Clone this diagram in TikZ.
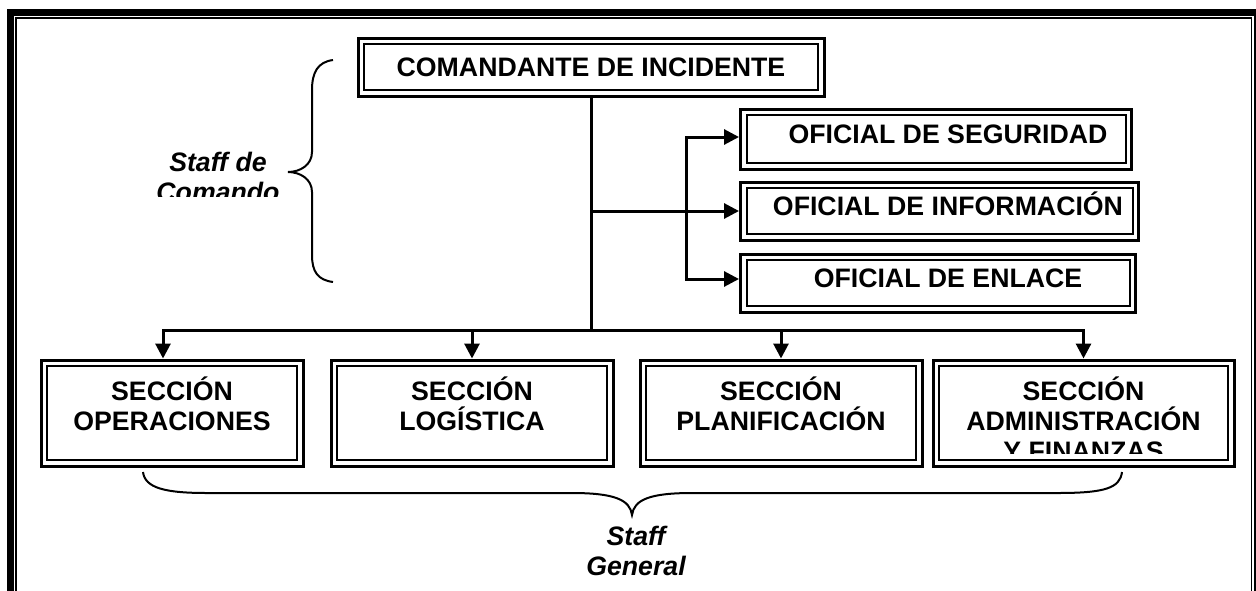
\documentclass[tikz,border=0pt]{standalone}
\usepackage{fontspec}
\setmainfont{Liberation Sans}
\usetikzlibrary{arrows.meta}

\begin{document}
\begin{tikzpicture}[x=1pt, y=-1pt, >={Triangle[length=15pt,width=15pt]},
    linea/.style={line width=3pt},
    flecha/.style={->, line width=3pt}]

    \tikzstyle{caja}=[draw, line width=3pt, inner sep=0pt, font=\bfseries\fontsize{26.7}{30}\selectfont,
      path picture={\draw[line width=2pt] ([shift={(6pt,-6pt)}]path picture bounding box.north west)
        rectangle ([shift={(-6pt,6pt)}]path picture bounding box.south east);}]
    \tikzstyle{texto}=[inner sep=0pt, align=center, font=\bfseries\fontsize{26.7}{30}\selectfont]
    \tikzstyle{rotulo}=[inner sep=0pt, align=center, font=\bfseries\itshape\fontsize{26.7}{30}\selectfont]
    \tikzstyle{llave}=[line width=2pt]

    \useasboundingbox (0,0) rectangle (1256,590);
    \clip (0,0) rectangle (1256,590);
    \fill[white] (0,0) rectangle (1256,590);

    % marco
    \draw[line width=7pt] (10.5,12) rectangle (1257,620);
    \draw[line width=1.5pt] (16,18) rectangle (1251.5,620);

    \node[caja, minimum width=466pt, minimum height=58pt] (ci) at (591,67) {COMANDANTE DE INCIDENTE};

    % oficiales
    \foreach \n/\y/\w/\h/\t in {seg/139/391/60/OFICIAL DE SEGURIDAD,
                                inf/211/398/58/OFICIAL DE INFORMACIÓN,
                                enl/283/395/58/OFICIAL DE ENLACE}{
      \node[caja, minimum width=\w pt, minimum height=\h pt, anchor=west] (\n) at (739,\y) {};
      \node[texto, anchor=base] (t-\n) at (948,\y+4) {\t};
    }

    % secciones
    \foreach \n/\x/\w/\t in {ope/172/262/{SECCIÓN\\OPERACIONES},
                             log/472/282/{SECCIÓN\\LOGÍSTICA},
                             pla/781/282/{SECCIÓN\\PLANIFICACIÓN},
                             adm/1083.5/301/{SECCIÓN\\ADMINISTRACIÓN\\Y FINANZAS}}{
      \node[caja, minimum width=\w pt, minimum height=106pt] (\n) at (\x,413) {};
      \begin{scope}
        \clip (\n.north west) rectangle ([yshift=14pt]\n.south east);
        \node[texto, anchor=north] (t-\n) at (\x,377) {\t};
      \end{scope}
    }

    % conectores
    \coordinate (nudo) at (ci.south |- 0,330);
    \coordinate (ramal) at (686,211);
    \draw[linea] (ci.south) -- (nudo);
    \draw[flecha] (ci.south |- inf.west) -- (inf.west);
    \draw[flecha, <->] ([yshift=2pt]seg.west) -| (ramal) |- ([yshift=4pt]enl.west);
    \draw[flecha, <->] ([xshift=-9pt]ope.north) |- (nudo) -| (adm.north);
    \foreach \n in {log,pla}
      \draw[flecha] (\n.north |- nudo) -- (\n.north);

    % llaves
    \draw[llave] (333,60) .. controls (318,62) and (312,72) .. (312,90) -- (312,152)
      .. controls (312,165) and (300,172) .. (288,172)
      .. controls (300,172) and (312,179) .. (312,192) -- (312,255)
      .. controls (312,272) and (318,280) .. (333,282);
    \draw[llave] (143,472) .. controls (145,488) and (165,493) .. (207,493) -- (572,493)
      .. controls (615,493) and (630,500) .. (632,515)
      .. controls (634,500) and (649,493) .. (692,493) -- (1058,493)
      .. controls (1105,493) and (1120,488) .. (1122,472);

    \begin{scope}
      \clip (140,140) rectangle (300,196);
      \node[rotulo, anchor=north] (sdc) at (218,152) {Staff de\\Comando};
    \end{scope}
    \begin{scope}
      \clip (560,520) rectangle (720,575);
      \node[rotulo, anchor=north] (sg) at (636,526) {Staff\\General};
    \end{scope}
\end{tikzpicture}
\end{document}
